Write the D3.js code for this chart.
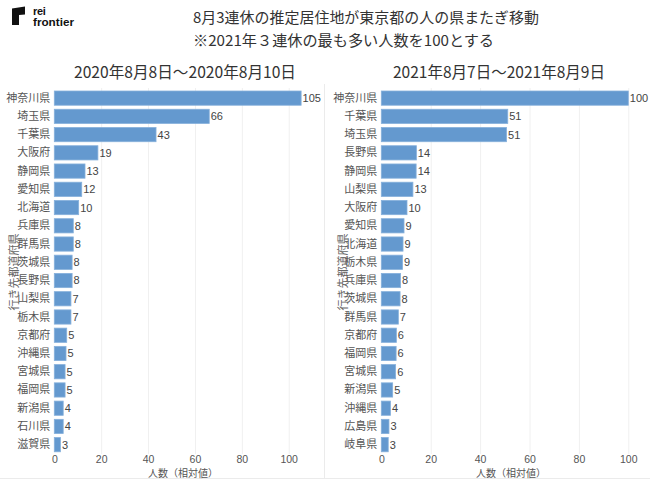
<!DOCTYPE html>
<html><head><meta charset="utf-8">
<script src="https://cdn.jsdelivr.net/npm/d3@7"></script>
<style>
html,body{margin:0;padding:0;background:#fff;}
svg{display:block;font-family:"Noto Sans CJK JP","Noto Sans",sans-serif;}
</style></head>
<body><svg id="c" width="650" height="480"></svg>
<script>
const titleLine1 = "8月3連休の推定居住地が東京都の人の県またぎ移動";
const titleLine2 = "※2021年３連休の最も多い人数を100とする";
const panelTitles = ["2020年8月8日～2020年8月10日", "2021年8月7日～2021年8月9日"];
const yAxisTitle = "行き先都道府県";
const xAxisTitle = "人数（相対値）";
const xTicks = [0, 20, 40, 60, 80, 100];

const prefs2020 = ["神奈川県","埼玉県","千葉県","大阪府","静岡県","愛知県","北海道","兵庫県","群馬県","茨城県","長野県","山梨県","栃木県","京都府","沖縄県","宮城県","福岡県","新潟県","石川県","滋賀県"];
const values2020 = [105.3,66.1,43.4,18.6,13.1,11.7,10.4,8.1,8.1,7.6,7.6,7.1,7.1,5.3,5.0,4.6,4.6,3.8,3.8,2.6];

const prefs2021 = ["神奈川県","千葉県","埼玉県","長野県","静岡県","山梨県","大阪府","愛知県","北海道","栃木県","兵庫県","茨城県","群馬県","京都府","福岡県","宮城県","新潟県","沖縄県","広島県","岐阜県"];
const values2021 = [100,51.2,50.7,14.2,14.1,12.8,10.4,9.2,8.8,8.6,7.8,7.6,6.9,6.1,6.0,5.8,4.6,3.7,3.1,2.8];

const svg = d3.select("#c");
const barColor = "#6499cf";

// logo
const logo = svg.append("g");
logo.append("path").attr("d","M12,8.5 L25,6.5 L25,14.5 L19,15 L19,25 L12,25 Z").attr("fill","#111");
logo.append("text").attr("x",33).attr("y",15).attr("font-family","Liberation Sans, Arial, sans-serif")
  .attr("font-weight","bold").attr("font-size",11).attr("fill","#111").attr("letter-spacing","-0.3").text("rei");
logo.append("text").attr("x",33).attr("y",25.5).attr("font-family","Liberation Sans, Arial, sans-serif")
  .attr("font-weight","bold").attr("font-size",11).attr("fill","#111")
  .attr("textLength",41).attr("lengthAdjust","spacingAndGlyphs").text("frontier");

// titles
svg.append("text").attr("x",193).attr("y",23).attr("font-size",15).attr("fill","#333")
  .attr("textLength",346).attr("lengthAdjust","spacingAndGlyphs").text(titleLine1);
svg.append("text").attr("x",193).attr("y",46).attr("font-size",15).attr("fill","#333")
  .attr("textLength",301).attr("lengthAdjust","spacingAndGlyphs").text(titleLine2);

// separators
svg.append("line").attr("x1",324.5).attr("x2",324.5).attr("y1",84).attr("y2",478).attr("stroke","#ebebeb");
svg.append("line").attr("x1",0).attr("x2",650).attr("y1",478.5).attr("y2",478.5).attr("stroke","#ebebeb");

function panel(cfg){
  const g = svg.append("g");
  const x = d3.scaleLinear().domain([0,100]).range([cfg.x0, cfg.x100]);
  const y = d3.scaleBand().domain(cfg.cats).range([89, 453.8]).paddingInner(0.22).paddingOuter(0.11);

  g.append("text").attr("x",cfg.titleX).attr("y",78).attr("font-size",15.5).attr("fill","#333")
    .attr("textLength",cfg.titleW).attr("lengthAdjust","spacingAndGlyphs").text(cfg.title);

  // grid
  g.selectAll(".grid").data(xTicks.slice(1)).join("line")
    .attr("x1",d=>x(d)+0.5).attr("x2",d=>x(d)+0.5).attr("y1",88).attr("y2",454)
    .attr("stroke","#f0f0f0");

  // bars
  g.selectAll(".bar").data(cfg.vals).join("rect")
    .attr("x",x(0)).attr("y",(d,i)=>y(cfg.cats[i]))
    .attr("width",d=>x(d)-x(0)).attr("height",y.bandwidth())
    .attr("fill",barColor).attr("stroke","#86b0db").attr("stroke-width",0.8);

  // value labels
  g.selectAll(".val").data(cfg.vals).join("text")
    .attr("x",d=>x(d)+1.5).attr("y",(d,i)=>y(cfg.cats[i])+y.bandwidth()/2)
    .attr("dy","0.36em").attr("font-size",11).attr("fill","#444")
    .attr("font-family","Liberation Sans, Arial, sans-serif")
    .text(d=>Math.round(d));

  // category labels
  const ya = d3.axisLeft(y).tickSize(0).tickPadding(4);
  const yg = g.append("g").attr("transform",`translate(${x(0)},0)`).call(ya);
  yg.select(".domain").remove();
  yg.selectAll("text").attr("font-size",11).attr("fill","#555")
    .attr("font-family","Noto Sans CJK JP, sans-serif");

  // x axis
  const xa = d3.axisBottom(x).tickValues(xTicks).tickSize(0).tickPadding(0);
  const xg = g.append("g").attr("transform","translate(0,455)").call(xa);
  xg.select(".domain").remove();
  xg.selectAll("text").attr("font-size",10.5).attr("fill","#555").attr("dy",null).attr("y",8)
    .attr("font-family","Liberation Sans, Arial, sans-serif");

  g.append("text").attr("x",cfg.axisTitleX).attr("y",477).attr("text-anchor","middle")
    .attr("font-size",10).attr("fill","#555").text(xAxisTitle);

  g.append("text").attr("transform",`translate(${cfg.yTitleX},272) rotate(-90)`)
    .attr("text-anchor","middle").attr("font-size",11).attr("fill","#666").text(yAxisTitle);
}

panel({cats:prefs2020, vals:values2020, x0:54.3, x100:288.7, title:panelTitles[0], titleX:74, titleW:222, axisTitleX:183, yTitleX:18});
panel({cats:prefs2021, vals:values2021, x0:381.3, x100:628.3, title:panelTitles[1], titleX:393, titleW:212, axisTitleX:511, yTitleX:347});
</script>
</body></html>
